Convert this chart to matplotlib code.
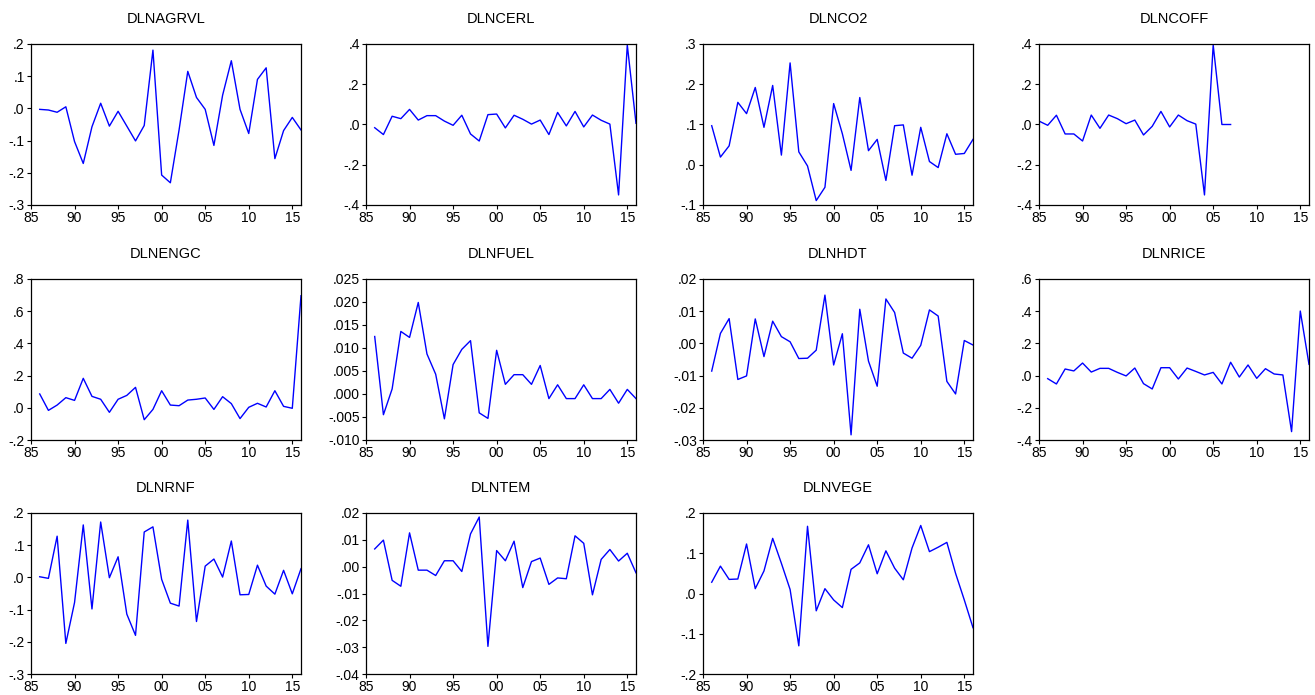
import matplotlib
matplotlib.use("Agg")
import matplotlib.pyplot as plt
from matplotlib.ticker import FuncFormatter, FixedLocator

plt.rcParams['font.family'] = ['Liberation Sans', 'DejaVu Sans']

years = list(range(1986, 2017))
years_coff = list(range(1985, 2008))

dlnagrvl = [-0.003, -0.005, -0.012, 0.005, -0.103, -0.171, -0.057, 0.016, -0.055, -0.009,
            -0.055, -0.101, -0.053, 0.181, -0.207, -0.231, -0.067, 0.115, 0.034, -0.003,
            -0.115, 0.041, 0.148, -0.003, -0.078, 0.090, 0.126, -0.156, -0.069, -0.028, -0.067]
dlncerl = [-0.016, -0.050, 0.041, 0.029, 0.075, 0.022, 0.044, 0.044, 0.017, -0.004,
           0.046, -0.047, -0.082, 0.049, 0.052, -0.017, 0.046, 0.026, 0.002, 0.022,
           -0.050, 0.060, -0.007, 0.065, -0.012, 0.047, 0.021, 0.002, -0.350, 0.395, 0.006]
dlnco2 = [0.097, 0.019, 0.047, 0.155, 0.127, 0.192, 0.093, 0.197, 0.024, 0.253,
          0.032, -0.003, -0.089, -0.056, 0.152, 0.077, -0.014, 0.167, 0.035, 0.063,
          -0.039, 0.097, 0.099, -0.026, 0.093, 0.008, -0.007, 0.077, 0.026, 0.028, 0.063]
dlncoff = [0.017, -0.004, 0.046, -0.047, -0.047, -0.082, 0.047, -0.019, 0.047, 0.029,
           0.004, 0.022, -0.052, -0.009, 0.065, -0.012, 0.047, 0.019, 0.002, -0.350,
           0.395, 0.000, 0.000]
dlnengc = [0.086, -0.016, 0.017, 0.063, 0.046, 0.183, 0.071, 0.053, -0.028, 0.053,
           0.077, 0.127, -0.074, -0.010, 0.106, 0.017, 0.013, 0.048, 0.053, 0.061,
           -0.010, 0.069, 0.026, -0.067, 0.003, 0.028, 0.005, 0.106, 0.009, -0.003, 0.696]
dlnfuel = [0.0125, -0.0045, 0.0011, 0.0136, 0.0123, 0.0199, 0.0087, 0.0043, -0.0054, 0.0064,
           0.0097, 0.0116, -0.0041, -0.0053, 0.0095, 0.0021, 0.0042, 0.0042, 0.0021, 0.0062,
           -0.0010, 0.0020, -0.0010, -0.0010, 0.0020, -0.0010, -0.0010, 0.0010, -0.0020, 0.0010, -0.0010]
dlnhdt = [-0.0086, 0.0031, 0.0077, -0.0112, -0.0101, 0.0076, -0.0041, 0.0069, 0.0021, 0.0005,
          -0.0047, -0.0046, -0.0021, 0.0150, -0.0067, 0.0030, -0.0284, 0.0106, -0.0055, -0.0133,
          0.0138, 0.0096, -0.0030, -0.0046, -0.0006, 0.0104, 0.0085, -0.0118, -0.0157, 0.0009, -0.0005]
dlnrice = [-0.019, -0.052, 0.041, 0.029, 0.078, 0.022, 0.045, 0.045, 0.020, -0.002,
           0.047, -0.050, -0.083, 0.049, 0.049, -0.021, 0.047, 0.026, 0.004, 0.020,
           -0.052, 0.083, -0.009, 0.066, -0.017, 0.043, 0.010, 0.004, -0.348, 0.401, 0.070]
dlnrnf = [0.002, -0.003, 0.128, -0.205, -0.078, 0.163, -0.098, 0.172, -0.001, 0.064,
          -0.114, -0.180, 0.141, 0.157, -0.006, -0.080, -0.089, 0.178, -0.137, 0.035,
          0.057, 0.001, 0.113, -0.054, -0.053, 0.038, -0.027, -0.052, 0.022, -0.051, 0.027]
dlntem = [0.0066, 0.0099, -0.0051, -0.0073, 0.0126, -0.0013, -0.0013, -0.0033, 0.0022, 0.0022,
          -0.0018, 0.0122, 0.0185, -0.0297, 0.0060, 0.0022, 0.0095, -0.0078, 0.0019, 0.0032,
          -0.0066, -0.0042, -0.0045, 0.0115, 0.0087, -0.0105, 0.0027, 0.0064, 0.0021, 0.0050, -0.0023]
dlnvege = [0.028, 0.068, 0.035, 0.036, 0.123, 0.012, 0.056, 0.137, 0.075, 0.010,
           -0.130, 0.167, -0.043, 0.012, -0.016, -0.035, 0.060, 0.076, 0.121, 0.049,
           0.106, 0.063, 0.034, 0.113, 0.169, 0.104, 0.115, 0.127, 0.050, -0.016, -0.085]

titles = ["DLNAGRVL", "DLNCERL", "DLNCO2", "DLNCOFF", "DLNENGC", "DLNFUEL",
          "DLNHDT", "DLNRICE", "DLNRNF", "DLNTEM", "DLNVEGE"]
series = [(years, dlnagrvl), (years, dlncerl), (years, dlnco2), (years_coff, dlncoff),
          (years, dlnengc), (years, dlnfuel), (years, dlnhdt), (years, dlnrice),
          (years, dlnrnf), (years, dlntem), (years, dlnvege)]

# y ticks: (low, high, step, decimals)
yticks = [(-0.3, 0.2, 0.1, 1), (-0.4, 0.4, 0.2, 1), (-0.1, 0.3, 0.1, 1), (-0.4, 0.4, 0.2, 1),
          (-0.2, 0.8, 0.2, 1), (-0.010, 0.025, 0.005, 3), (-0.03, 0.02, 0.01, 2),
          (-0.4, 0.6, 0.2, 1), (-0.3, 0.2, 0.1, 1), (-0.04, 0.02, 0.01, 2), (-0.2, 0.2, 0.1, 1)]
xticks = [1985, 1990, 1995, 2000, 2005, 2010, 2015]


def eviews_fmt(dec):
    # EViews style: drop the leading zero, ".2", "-.010"
    def f(v, pos):
        if abs(v) < 1e-12:
            v = 0.0
        s = f"{v:.{dec}f}"
        return s.replace("0.", ".", 1)
    return f


W, H = 1315, 695
fig = plt.figure(figsize=(W / 100, H / 100), dpi=100)

col_left = [31, 366, 703, 1039]
row_top = [44, 279, 513]
aw, ah = 270, 161

for i, (title, (x, y)) in enumerate(zip(titles, series)):
    r, c = divmod(i, 4)
    ax = fig.add_axes([col_left[c] / W, 1 - (row_top[r] + ah) / H, aw / W, ah / H])
    ax.plot(x, y, color=(0, 0, 1), lw=1.0)
    lo, hi, step, dec = yticks[i]
    n = int(round((hi - lo) / step))
    ticks = [lo + k * step for k in range(n + 1)]
    ax.set_ylim(lo, hi)
    ax.yaxis.set_major_locator(FixedLocator(ticks))
    ax.yaxis.set_major_formatter(FuncFormatter(eviews_fmt(dec)))
    ax.set_xlim(1985, 2016)
    ax.set_xticks(xticks)
    ax.set_xticklabels([f"{t % 100:02d}" for t in xticks])
    ax.tick_params(direction='out', length=3, width=0.8, labelsize=10, pad=1.5, colors='black')
    for s in ax.spines.values():
        s.set_linewidth(0.9)
    ax.set_title(title, fontsize=10.5, pad=15)

fig.savefig("out.png", dpi=100)
